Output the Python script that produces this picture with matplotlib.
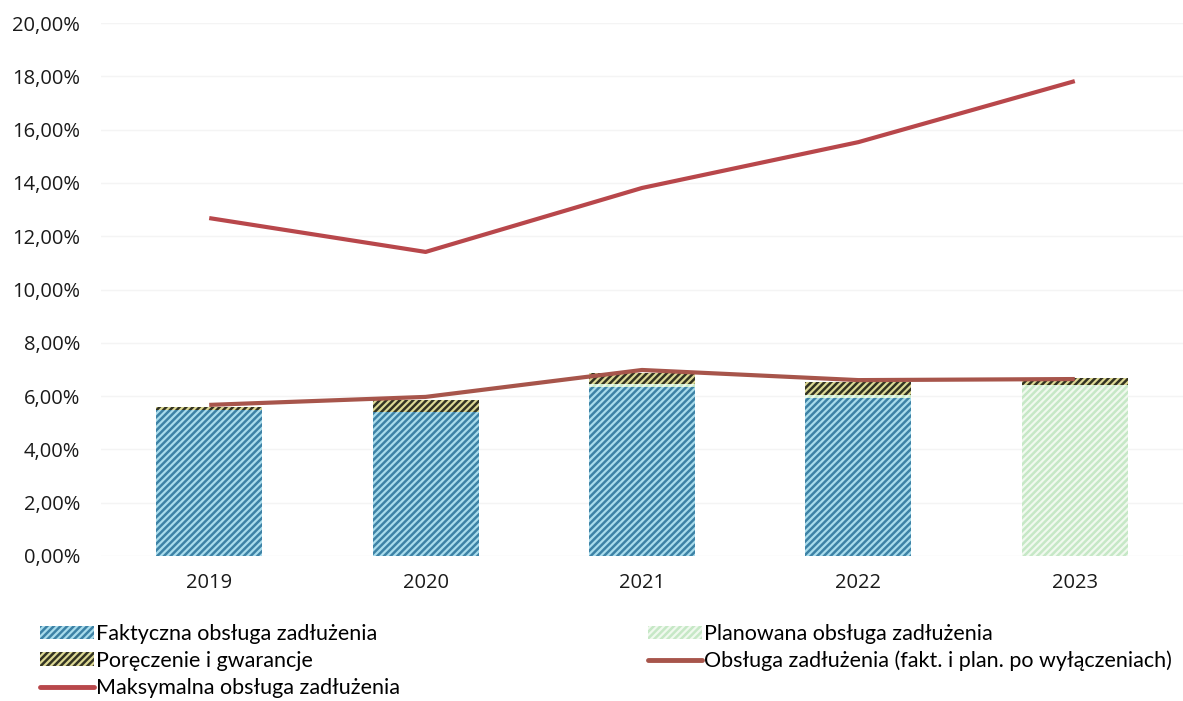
import matplotlib
matplotlib.use("Agg")
import matplotlib.pyplot as plt
from matplotlib.patches import Patch
from matplotlib.lines import Line2D
from matplotlib.ticker import FuncFormatter

plt.rcParams['font.family'] = ['Open Sans', 'DejaVu Sans']
plt.rcParams['hatch.linewidth'] = 1.8

# data (% of revenue)
years = ['2019', '2020', '2021', '2022', '2023']
faktyczna = [5.48, 5.40, 6.34, 5.93, 0.0]
planowana = [0.0, 0.0, 0.10, 0.12, 6.42]
poreczenia = [0.12, 0.45, 0.43, 0.48, 0.26]
obsluga_po_wyl = [5.67, 5.97, 6.98, 6.60, 6.64]
maksymalna = [12.68, 11.41, 13.81, 15.53, 17.82]

c_blue_bg, c_blue_h = '#a9dcec', '#3d82a6'
c_green_bg, c_green_h = '#f0f9ee', '#c6e8c6'
c_guar_bg, c_guar_h = '#dcd894', '#333322'
c_max = '#b8474b'
c_obs = '#a7554b'
hatch = '/////'

fig = plt.figure(figsize=(11.83, 7.01), dpi=100)
ax = fig.add_axes([101 / 1183, 1 - 556 / 701, 1 - 101 / 1183, (556 - 23) / 701])

x = range(len(years))
w = 0.49
bottom2 = [a + b for a, b in zip(faktyczna, planowana)]

ax.bar(x, faktyczna, w, color=c_blue_bg, edgecolor=c_blue_h, hatch=hatch, linewidth=0, zorder=2)
ax.bar(x, planowana, w, bottom=faktyczna, color=c_green_bg, edgecolor=c_green_h, hatch=hatch, linewidth=0, zorder=2)
ax.bar(x, poreczenia, w, bottom=bottom2, color=c_guar_bg, edgecolor=c_guar_h, hatch=hatch, linewidth=0, zorder=2)

ax.plot(x, maksymalna, color=c_max, lw=3, zorder=3, solid_capstyle='butt')
ax.plot(x, obsluga_po_wyl, color=c_obs, lw=3, zorder=3, solid_capstyle='butt')

ax.set_xlim(-0.5, len(years) - 0.5)
ax.set_ylim(0, 20)
ax.set_yticks(range(0, 21, 2))
ax.yaxis.set_major_formatter(FuncFormatter(lambda v, p: f'{v:.2f}%'.replace('.', ',')))
ax.set_xticks(list(x))
ax.set_xticklabels(years)
ax.tick_params(axis='both', length=0, labelsize=14.5, colors='#1a1a1a')
ax.tick_params(axis='x', pad=12)
ax.tick_params(axis='y', pad=15)
ax.grid(axis='y', color='#f4f4f4', lw=1, zorder=0)
for s in ax.spines.values():
    s.set_visible(False)

h_fakt = Patch(facecolor=c_blue_bg, edgecolor=c_blue_h, hatch=hatch, linewidth=0)
h_plan = Patch(facecolor=c_green_bg, edgecolor=c_green_h, hatch=hatch, linewidth=0)
h_guar = Patch(facecolor=c_guar_bg, edgecolor=c_guar_h, hatch=hatch, linewidth=0)
h_max = Line2D([], [], color=c_max, lw=3.5, solid_capstyle='round')
h_obs = Line2D([], [], color=c_obs, lw=3.5, solid_capstyle='round')

leg_kw = dict(frameon=False, prop={'family': 'Lato', 'size': 15.5}, handlelength=2.5, handleheight=0.6,
              handletextpad=0.1, labelspacing=0.32, borderaxespad=0, borderpad=0)
fig.legend([h_fakt, h_guar, h_max],
           ['Faktyczna obsługa zadłużenia', 'Poręczenie i gwarancje', 'Maksymalna obsługa zadłużenia'],
           loc='upper left', bbox_to_anchor=(40 / 1183, 1 - 624 / 701), **leg_kw)
fig.legend([h_plan, h_obs],
           ['Planowana obsługa zadłużenia', 'Obsługa zadłużenia (fakt. i plan. po wyłączeniach)'],
           loc='upper left', bbox_to_anchor=(648 / 1183, 1 - 624 / 701), **leg_kw)

fig.savefig('out.png', dpi=100)
